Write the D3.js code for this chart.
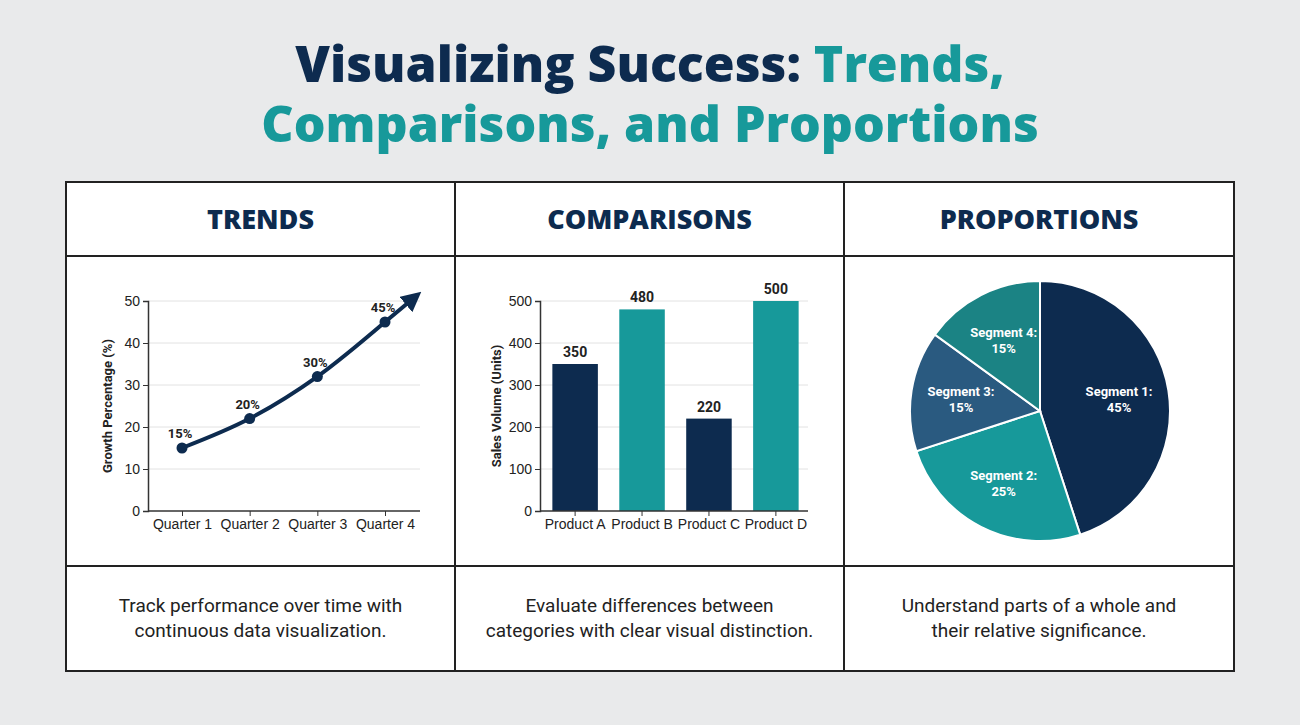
<!DOCTYPE html>
<html><head><meta charset="utf-8">
<script src="https://cdn.jsdelivr.net/npm/d3@7"></script>
<style>
body{margin:0;background:#e9eaeb;font-family:Roboto,sans-serif;}
</style></head>
<body><div id="container"></div>
<script>
const quarters = ['Quarter 1', 'Quarter 2', 'Quarter 3', 'Quarter 4'];
const growth = [15, 22, 32, 45];
const growthLabels = ['15%', '20%', '30%', '45%'];
const products = ['Product A', 'Product B', 'Product C', 'Product D'];
const sales = [350, 480, 220, 500];
const segments = ['Segment 1:', 'Segment 2:', 'Segment 3:', 'Segment 4:'];
const shares = [45, 25, 15, 15];
const panelTitles = ['TRENDS', 'COMPARISONS', 'PROPORTIONS'];
const captions = [
  ['Track performance over time with', 'continuous data visualization.'],
  ['Evaluate differences between', 'categories with clear visual distinction.'],
  ['Understand parts of a whole and', 'their relative significance.']
];

const navy = '#0d2b4f', teal = '#17999a';
const svg = d3.select('#container').append('svg').attr('width', 1300).attr('height', 725);
svg.append('rect').attr('width', 1300).attr('height', 725).attr('fill', '#e9eaeb');

const title = svg.append('text').attr('x', 650).attr('y', 82).attr('text-anchor', 'middle')
  .style('font-family', 'Open Sans').style('font-weight', 800).style('font-size', '50px');
title.append('tspan').attr('fill', navy).text('Visualizing Success: ');
title.append('tspan').attr('fill', teal).text('Trends,');
svg.append('text').attr('x', 650).attr('y', 142).attr('text-anchor', 'middle')
  .style('font-family', 'Open Sans').style('font-weight', 800).style('font-size', '50px')
  .attr('fill', teal).text('Comparisons, and Proportions');

// panel grid
const colX = [66, 455, 844, 1234];
svg.append('rect').attr('x', 66).attr('y', 182).attr('width', 1168).attr('height', 489)
  .attr('fill', '#fff').attr('stroke', '#222').attr('stroke-width', 2);
[455, 844].forEach(x => svg.append('line').attr('x1', x).attr('x2', x).attr('y1', 182).attr('y2', 671).attr('stroke', '#222').attr('stroke-width', 2));
[256, 566].forEach(y => svg.append('line').attr('x1', 66).attr('x2', 1234).attr('y1', y).attr('y2', y).attr('stroke', '#222').attr('stroke-width', 2));

panelTitles.forEach((t, i) => {
  const cx = (colX[i] + colX[i + 1]) / 2;
  svg.append('text').attr('x', cx).attr('y', 229).attr('text-anchor', 'middle')
    .style('font-family', 'Open Sans').style('font-weight', 800).style('font-size', '27px')
    .attr('fill', navy).text(t);
  captions[i].forEach((line, j) => svg.append('text').attr('x', cx).attr('y', 612 + j * 25)
    .attr('text-anchor', 'middle').style('font-size', '19px').attr('fill', '#222').text(line));
});

function styleAxis(g) {
  g.selectAll('text').style('font-size', '14px').attr('fill', '#222');
  g.select('.domain').attr('stroke', '#333').attr('stroke-width', 1.5);
  g.selectAll('.tick line').attr('stroke', '#333');
}

// trends
const x1 = d3.scalePoint().domain(quarters).range([182, 385]);
const y1 = d3.scaleLinear().domain([0, 50]).range([511, 301]);
const g1 = svg.append('g');
g1.selectAll('.grid').data(y1.ticks(5).slice(1)).enter().append('line')
  .attr('x1', 148).attr('x2', 420).attr('y1', d => y1(d)).attr('y2', d => y1(d)).attr('stroke', '#e2e2e2');
g1.append('g').attr('transform', 'translate(148,0)').call(d3.axisLeft(y1).ticks(5).tickSize(5)).call(styleAxis);
g1.append('g').attr('transform', 'translate(0,511)').call(d3.axisBottom(x1).tickSize(5)).call(styleAxis)
  .call(g => g.select('.domain').attr('d', 'M148,0H420'));
g1.append('text').attr('transform', 'translate(112,406) rotate(-90)').attr('text-anchor', 'middle')
  .style('font-size', '13px').style('font-weight', 'bold').attr('fill', '#222').text('Growth Percentage (%)');
const defs = svg.append('defs');
defs.append('marker').attr('id', 'arr').attr('viewBox', '0 0 10 10').attr('refX', 2).attr('refY', 5)
  .attr('markerWidth', 5).attr('markerHeight', 5).attr('orient', 'auto')
  .append('path').attr('d', 'M0,0L10,5L0,10Z').attr('fill', navy);
const pts = quarters.map((q, i) => [x1(q), y1(growth[i])]);
const last = pts[3];
const ext = [last[0] + 24, last[1] - 20];
g1.append('path').attr('d', d3.line().curve(d3.curveMonotoneX)(pts) + 'L' + ext[0] + ',' + ext[1])
  .attr('fill', 'none').attr('stroke', navy).attr('stroke-width', 4).attr('marker-end', 'url(#arr)');
g1.selectAll('circle').data(pts).enter().append('circle').attr('cx', d => d[0]).attr('cy', d => d[1])
  .attr('r', 5.5).attr('fill', navy);
g1.selectAll('.lbl').data(pts).enter().append('text').attr('x', d => d[0] - 2).attr('y', d => d[1] - 10)
  .attr('text-anchor', 'middle').style('font-size', '13px').style('font-weight', 'bold').attr('fill', '#222')
  .text((d, i) => growthLabels[i]);

// comparisons
const x2 = d3.scaleBand().domain(products).range([543, 808]).paddingInner(0.32).paddingOuter(0.14);
const y2 = d3.scaleLinear().domain([0, 500]).range([511, 301]);
const g2 = svg.append('g');
g2.selectAll('.grid').data(y2.ticks(5).slice(1)).enter().append('line')
  .attr('x1', 540).attr('x2', 808).attr('y1', d => y2(d)).attr('y2', d => y2(d)).attr('stroke', '#e2e2e2');
g2.selectAll('rect').data(products).enter().append('rect').attr('x', d => x2(d)).attr('width', x2.bandwidth())
  .attr('y', (d, i) => y2(sales[i])).attr('height', (d, i) => 511 - y2(sales[i]))
  .attr('fill', (d, i) => i % 2 ? teal : navy);
g2.append('g').attr('transform', 'translate(540,0)').call(d3.axisLeft(y2).ticks(5).tickSize(5)).call(styleAxis);
g2.append('g').attr('transform', 'translate(0,511)').call(d3.axisBottom(x2).tickSize(5)).call(styleAxis)
  .call(g => g.select('.domain').attr('d', 'M540,0H808'));
g2.append('text').attr('transform', 'translate(501,406) rotate(-90)').attr('text-anchor', 'middle')
  .style('font-size', '13px').style('font-weight', 'bold').attr('fill', '#222').text('Sales Volume (Units)');
g2.selectAll('.lbl').data(products).enter().append('text').attr('x', d => x2(d) + x2.bandwidth() / 2)
  .attr('y', (d, i) => y2(sales[i]) - 7).attr('text-anchor', 'middle').style('font-size', '14px')
  .style('font-weight', 'bold').attr('fill', '#222').text((d, i) => sales[i]);

// proportions
const pieColors = [navy, teal, '#2a5a80', '#1b8384'];
const arcs = d3.pie().sort(null)(shares);
const arc = d3.arc().innerRadius(0).outerRadius(130);
const g3 = svg.append('g').attr('transform', 'translate(1040,411)');
g3.selectAll('path').data(arcs).enter().append('path').attr('d', arc)
  .attr('fill', (d, i) => pieColors[i]).attr('stroke', '#fff').attr('stroke-width', 2);
const lab = d3.arc().innerRadius(80).outerRadius(80);
g3.selectAll('.lbl').data(arcs).enter().append('text')
  .attr('transform', d => 'translate(' + lab.centroid(d) + ')').attr('text-anchor', 'middle')
  .style('font-size', '13px').style('font-weight', 'bold').attr('fill', '#fff')
  .each(function (d, i) {
    d3.select(this).append('tspan').attr('x', 0).attr('dy', '-0.2em').text(segments[i]);
    d3.select(this).append('tspan').attr('x', 0).attr('dy', '1.25em').text(shares[i] + '%');
  });
</script></body></html>
